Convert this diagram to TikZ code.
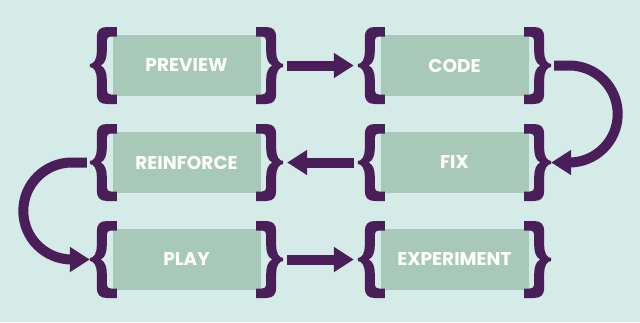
\documentclass[tikz,border=0pt]{standalone}
\usepackage{fontspec}
\setmainfont{Poppins}
\usetikzlibrary{arrows.meta}
\definecolor{bg}{HTML}{D5EBE7}
\definecolor{boxc}{HTML}{A8C8B9}
\definecolor{purp}{HTML}{4A1E58}
\newcommand\braceshape{(27,-38.5) -- (17,-38.5) .. controls (10,-38.5) and (7,-35) .. (7,-28) -- (7,-14) .. controls (7,-6) and (4,-1.5) .. (0,-1.5) -- (0,1.5) .. controls (4,1.5) and (7,6) .. (7,14) -- (7,28) .. controls (7,35) and (10,38.5) .. (17,38.5) -- (27,38.5) -- (27,29) -- (21,29) .. controls (18.5,29) and (17,27.5) .. (17,25) -- (17,14) .. controls (17,7) and (15,2) .. (11,0) .. controls (15,-2) and (17,-7) .. (17,-14) -- (17,-25) .. controls (17,-27.5) and (18.5,-29) .. (21,-29) -- (27,-29) -- cycle}
\tikzset{
  bracefill/.style={fill=purp},
  lbrace/.pic={\fill[bracefill] \braceshape;},
  rbrace/.pic={\begin{scope}[xscale=-1]\fill[bracefill] \braceshape;\end{scope}},
}
\begin{document}
\begin{tikzpicture}[x=1pt,y=-1pt,
  stage/.style={fill=boxc, minimum width=148pt, minimum height=61pt, inner sep=0pt, text=white, font=\bfseries\fontsize{18.5}{22}\selectfont},
  flow/.style={draw=purp, line width=10pt, -{Triangle[width=24pt,length=20pt]}}]
\fill[bg] (0,0) rectangle (640,322);
\useasboundingbox (0,0) rectangle (640,322);
\node[stage] (preview) at (186.5,65.5) {PREVIEW};
\node[stage] (code) at (454.5,65.5) {CODE};
\node[stage] (reinforce) at (186.5,162.5) {REINFORCE};
\node[stage] (fix) at (454.5,162.5) {FIX};
\node[stage] (play) at (186.5,259.5) {PLAY};
\node[stage] (experiment) at (454.5,259.5) {EXPERIMENT};
\foreach \n in {preview,code,reinforce,fix,play,experiment}{
  \path (\n.west) ++(-22.5,0) coordinate (\n-l) pic {lbrace};
  \path (\n.east) ++(22.5,0) coordinate (\n-r) pic {rbrace};
}
\draw[flow, shorten <=4pt, shorten >=4pt] (preview-r) -- (code-l);
\draw[flow, shorten <=4pt, shorten >=4pt] (fix-l) -- (reinforce-r);
\draw[flow, shorten <=4pt, shorten >=4pt] (play-r) -- (experiment-l);
\draw[flow, shorten <=3pt] (code-r) -- ++(18,0) arc[start angle=-90,end angle=90,radius=48.5] -- (fix-r);
\draw[flow, shorten <=3pt] (reinforce-l) -- ++(-18,0) arc[start angle=-90,end angle=-270,radius=48.5] -- (play-l);
\end{tikzpicture}
\end{document}
